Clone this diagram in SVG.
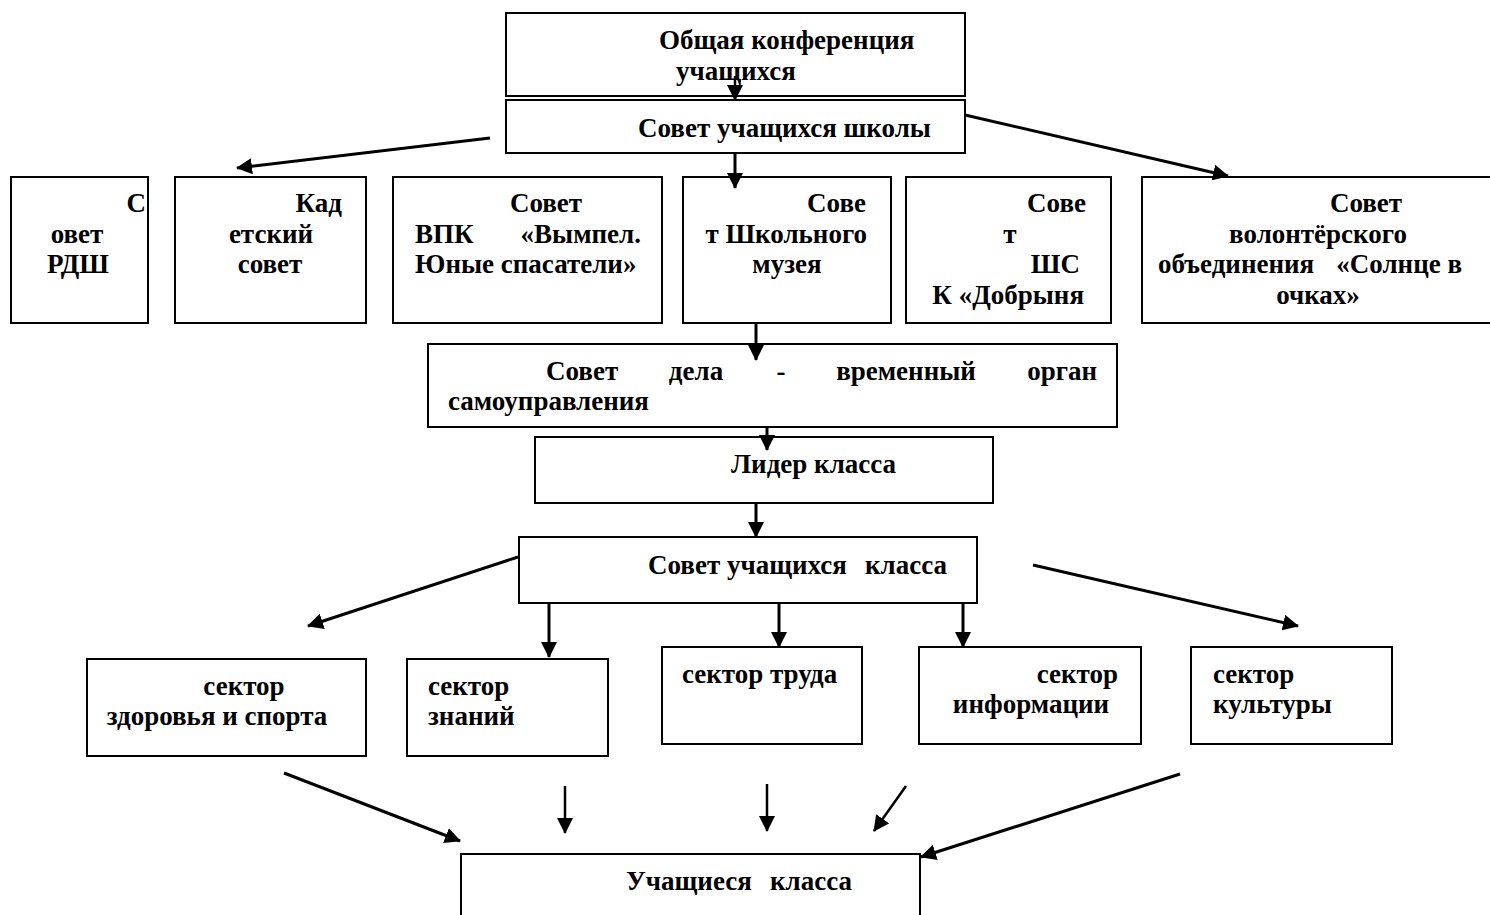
<svg xmlns="http://www.w3.org/2000/svg" width="1490" height="915" viewBox="0 0 1490 915">
<style>
.box{fill:#fff;stroke:#000;stroke-width:2}
.t{font-family:"Liberation Serif","Times New Roman",serif;font-weight:bold;font-size:27px;fill:#000}
.m{text-anchor:middle}
.e{text-anchor:end}
.c{stroke:#000;stroke-width:3;fill:none;marker-end:url(#ah)}
.c2{stroke:#000;stroke-width:2.5;fill:none;marker-end:url(#ah)}
</style>
<defs>
<marker id="ah" markerUnits="userSpaceOnUse" markerWidth="16" markerHeight="16" viewBox="0 0 16 16" refX="15" refY="8" orient="auto">
<path d="M0,0 L16,8 L0,16 z" fill="#000"/>
</marker>
</defs>
<rect width="1490" height="915" fill="#fff"/>

<g id="n-conf">
<rect class="box" x="506" y="13" width="459" height="83"/>
<text class="t" x="659" y="49">Общая конференция</text>
<text class="t" x="676" y="80">учащихся</text>
</g>
<g id="n-sovet-shkoly">
<rect class="box" x="506" y="100" width="459" height="53"/>
<text class="t" x="638" y="137">Совет учащихся школы</text>
</g>

<g id="n-rdsh">
<rect class="box" x="11" y="177" width="137" height="146"/>
<text class="t e" x="146" y="212">С</text>
<text class="t m" x="77" y="243">овет</text>
<text class="t m" x="78" y="273">РДШ</text>
</g>
<g id="n-kadet">
<rect class="box" x="175" y="177" width="191" height="146"/>
<text class="t e" x="342" y="212">Кад</text>
<text class="t m" x="271" y="243">етский</text>
<text class="t m" x="270" y="273">совет</text>
</g>
<g id="n-vpk">
<rect class="box" x="393" y="177" width="269" height="146"/>
<text class="t m" x="546" y="212">Совет</text>
<text class="t" x="415" y="243">ВПК</text>
<text class="t e" x="641" y="243">«Вымпел.</text>
<text class="t" x="415" y="273">Юные спасатели»</text>
</g>
<g id="n-muzey">
<rect class="box" x="683" y="177" width="208" height="146"/>
<text class="t e" x="866" y="212">Сове</text>
<text class="t e" x="867" y="243">т Школьного</text>
<text class="t m" x="787" y="273">музея</text>
</g>
<g id="n-shsk">
<rect class="box" x="906" y="177" width="205" height="146"/>
<text class="t e" x="1086" y="212">Сове</text>
<text class="t m" x="1010" y="243">т</text>
<text class="t e" x="1080" y="273">ШС</text>
<text class="t e" x="1084" y="304">К «Добрыня</text>
</g>
<g id="n-volont">
<rect class="box" x="1142" y="177" width="360" height="146"/>
<text class="t m" x="1366" y="212">Совет</text>
<text class="t m" x="1318" y="243">волонтёрского</text>
<text class="t" x="1158" y="273">объединения</text>
<text class="t e" x="1462" y="273">«Солнце в</text>
<text class="t m" x="1318" y="304">очках»</text>
</g>

<g id="n-sovet-dela">
<rect class="box" x="428" y="344" width="689" height="83"/>
<text class="t" x="546" y="380">Совет</text>
<text class="t m" x="696" y="380">дела</text>
<text class="t m" x="781" y="380">-</text>
<text class="t m" x="906" y="380">временный</text>
<text class="t e" x="1097" y="380">орган</text>
<text class="t" x="448" y="410">самоуправления</text>
</g>
<g id="n-lider">
<rect class="box" x="535" y="437" width="458" height="66"/>
<text class="t" x="731" y="473">Лидер класса</text>
</g>
<g id="n-sovet-klassa">
<rect class="box" x="519" y="537" width="458" height="66"/>
<text class="t" x="648" y="574">Совет учащихся</text>
<text class="t e" x="947" y="574">класса</text>
</g>

<g id="n-zdorov">
<rect class="box" x="87" y="659" width="279" height="97"/>
<text class="t m" x="244" y="695">сектор</text>
<text class="t m" x="217" y="725">здоровья и спорта</text>
</g>
<g id="n-znaniy">
<rect class="box" x="407" y="659" width="201" height="97"/>
<text class="t" x="428" y="695">сектор</text>
<text class="t" x="428" y="725">знаний</text>
</g>
<g id="n-truda">
<rect class="box" x="662" y="647" width="200" height="97"/>
<text class="t" x="682" y="683">сектор труда</text>
</g>
<g id="n-inform">
<rect class="box" x="919" y="647" width="222" height="97"/>
<text class="t e" x="1118" y="683">сектор</text>
<text class="t m" x="1031" y="713">информации</text>
</g>
<g id="n-kultura">
<rect class="box" x="1191" y="647" width="201" height="97"/>
<text class="t" x="1213" y="683">сектор</text>
<text class="t" x="1213" y="713">культуры</text>
</g>

<g id="n-uchashiesya">
<rect class="box" x="461" y="854" width="459" height="80"/>
<text class="t" x="626" y="890">Учащиеся</text>
<text class="t e" x="852" y="890">класса</text>
</g>

<g id="connectors">
<line class="c2" x1="735" y1="76" x2="735" y2="100"/>
<line class="c" x1="735" y1="153" x2="735" y2="188"/>
<line class="c" x1="490" y1="138" x2="237" y2="168"/>
<line class="c" x1="965" y1="115" x2="1228" y2="176"/>
<line class="c" x1="756" y1="323" x2="756" y2="360"/>
<line class="c" x1="767" y1="427" x2="767" y2="450"/>
<line class="c" x1="756" y1="503" x2="756" y2="537"/>
<line class="c" x1="518" y1="557" x2="308" y2="626"/>
<line class="c" x1="549" y1="603" x2="549" y2="657"/>
<line class="c" x1="779" y1="603" x2="779" y2="647"/>
<line class="c" x1="963" y1="603" x2="963" y2="647"/>
<line class="c" x1="1033" y1="565" x2="1298" y2="626"/>
<line class="c" x1="284" y1="773" x2="460" y2="841"/>
<line class="c2" x1="565" y1="786" x2="565" y2="833"/>
<line class="c2" x1="767" y1="784" x2="767" y2="831"/>
<line class="c2" x1="906" y1="786" x2="874" y2="831"/>
<line class="c" x1="1180" y1="774" x2="921" y2="857"/>
</g>
</svg>
